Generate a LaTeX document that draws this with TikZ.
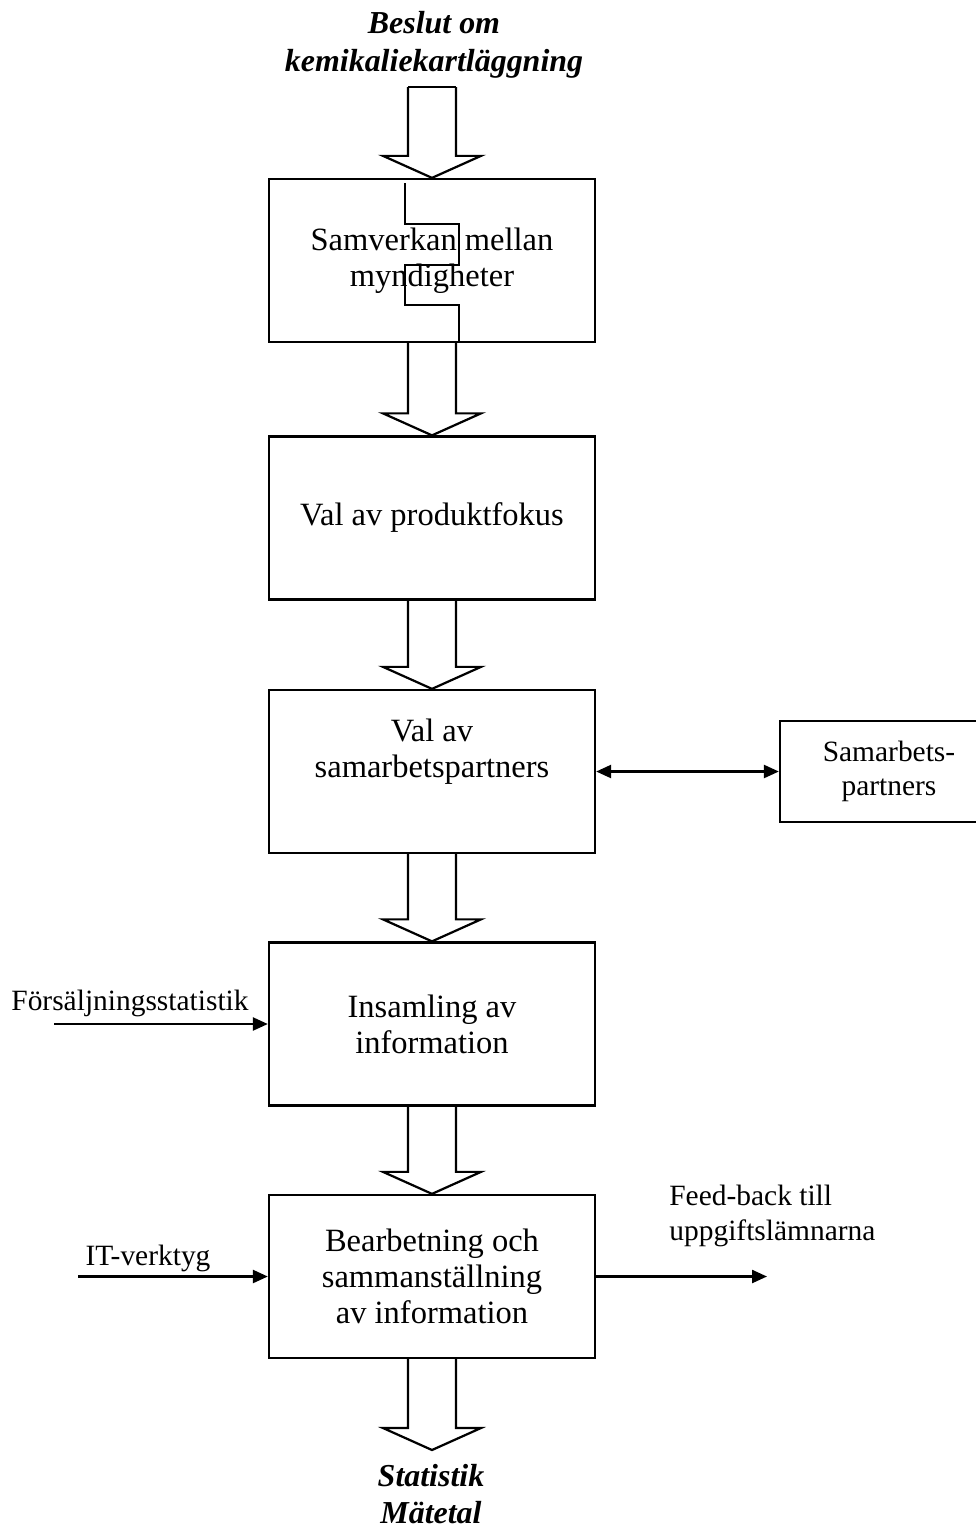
\documentclass[tikz,border=0pt]{standalone}
\usepackage{fontspec}
\setmainfont{Liberation Serif}
\usetikzlibrary{calc, arrows.meta}

\newcommand{\fatarrow}[2]{%
\draw ($(#1)+(-24,0)$) -- ($(#2)+(-24,-22)$) -- ($(#2)+(-49,-22)$) -- (#2)
  -- ($(#2)+(49,-22)$) -- ($(#2)+(24,-22)$) -- ($(#1)+(24,0)$);}

\begin{document}
\begin{tikzpicture}[x=0.36pt, y=-0.36pt, line width=0.8pt,
  font=\fontsize{11.7}{13}\selectfont,
  box/.style={draw, minimum width=117.4pt, minimum height=58.7pt, inner sep=0pt, align=center},
  title/.style={font=\fontsize{11.5}{13.5}\selectfont\bfseries\itshape, align=center},
  side/.style={font=\fontsize{10.6}{12.4}\selectfont},
  tip/.style={-{Triangle[length=5.4pt, width=4.7pt]}},
  both/.style={{Triangle[length=5.4pt, width=4.7pt]}-{Triangle[length=5.4pt, width=4.7pt]}}]
\useasboundingbox (0,0) rectangle (976,1528);

\node[title] (decision) at (434,45) {Beslut om\\kemikaliekartläggning};
\node[box] (b1) at (432,260.5) {Samverkan mellan\\myndigheter};
\node[box] (b2) at (432,518) {Val av produktfokus};
\node[box] (b3) at (432,771.5) {Val av\\samarbetspartners\\\strut};
\node[box] (b4) at (432,1024) {Insamling av\\information};
\node[box] (b5) at (432,1276.5) {Bearbetning och\\sammanställning\\av information};
\node[title] (result) at (431,1494) {Statistik\\Mätetal};
\node[box, side, minimum width=78.5pt, minimum height=36.4pt] (partner) at (889,771.5) {Samarbets-\\partners};

\coordinate (start) at (432,87);
\coordinate (end) at (432,1450);
\coordinate (salesin) at (54,1024);
\coordinate (itin) at (78,1276.5);
\coordinate (fbout) at (767,1276.5);

% block arrows down the chain
\fatarrow{start}{b1.north}
\draw ($(start)+(-24,0)$) -- ($(start)+(24,0)$);
\fatarrow{b1.south}{b2.north}
\fatarrow{b2.south}{b3.north}
\fatarrow{b3.south}{b4.north}
\fatarrow{b4.south}{b5.north}
\fatarrow{b5.south}{end}

% stray line in the first box
\draw[line width=0.6pt] (405,183) -- (405,224) -- (459,224) -- (459,265) -- (405,265)
  -- (405,305) -- (459,305) -- (459,342);

\draw[both] (b3.east) -- (partner.west);

\node[side] (sales) at (130,1003) {Försäljningsstatistik};
\draw[tip] (salesin) -- (b4.west);
\node[side] (it) at (148,1258) {IT-verktyg};
\draw[tip] (itin) -- (b5.west);
\draw[tip] (b5.east) -- (fbout);
\node[side, anchor=west, align=left] (feedback) at (659,1216) {Feed-back till\\uppgiftslämnarna};
\end{tikzpicture}
\end{document}
